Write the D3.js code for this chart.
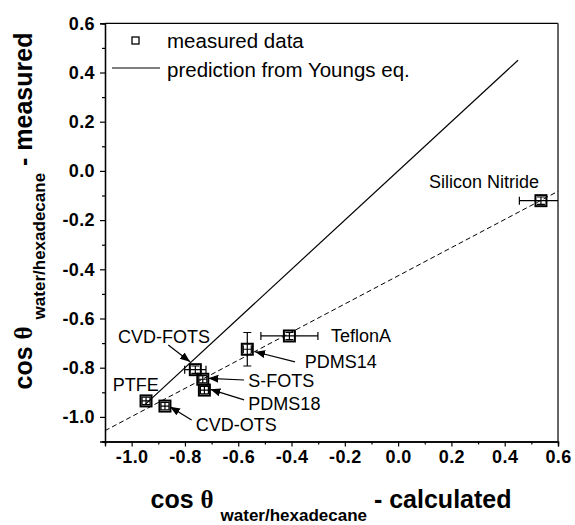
<!DOCTYPE html>
<html><head><meta charset="utf-8">
<script src="https://cdn.jsdelivr.net/npm/d3@7"></script>
<style>body{margin:0;background:#fff}svg{display:block}</style>
</head><body><svg id="c" width="575" height="525"></svg>
<script>
// ---- data ----
const names      = ["Silicon Nitride", "TeflonA", "PDMS14", "CVD-FOTS", "S-FOTS", "PDMS18", "PTFE", "CVD-OTS"];
const calculated = [0.536, -0.408, -0.566, -0.761, -0.733, -0.727, -0.946, -0.875];
const measured   = [-0.121, -0.671, -0.725, -0.808, -0.847, -0.891, -0.935, -0.956];
const xError     = [0.081, 0.107, 0.015, 0.040, 0.015, 0.015, 0.015, 0.015];
const yError     = [0.015, 0.015, 0.068, 0.015, 0.015, 0.015, 0.015, 0.015];
const youngsX = [-0.95, 0.45];
const youngsY = [-0.95, 0.45];
const fitX = [-1.1, 0.6];
const fitY = [-1.056, -0.083];
const xTicks = [-1.0, -0.8, -0.6, -0.4, -0.2, 0.0, 0.2, 0.4, 0.6];
const yTicks = [-1.0, -0.8, -0.6, -0.4, -0.2, 0.0, 0.2, 0.4, 0.6];
const legendLabels = ["measured data", "prediction from Youngs eq."];
// label anchors (data units): text position, optional arrow start/end
const labelX  = [0.116, -0.252, -0.350, -1.051, -0.562, -0.562, -1.071, -0.759];
const labelY  = [-0.045, -0.671, -0.776, -0.674, -0.854, -0.945, -0.870, -1.029];
const arrowX0 = [null, null, -0.387, -0.8625, -0.578, -0.578, null, -0.775];
const arrowY0 = [null, null, -0.776, -0.708, -0.850, -0.931, null, -1.013];
const arrowX1 = [null, null, -0.537, -0.781, -0.712, -0.7045, null, -0.856];
const arrowY1 = [null, null, -0.735, -0.776, -0.843, -0.888, null, -0.9585];

// ---- layout ----
const svg = d3.select("#c");
const L = 105, R = 558, T = 23.3, B = 441.5;
const x = d3.scaleLinear().domain([-1.1, 0.6]).range([L, R]);
const y = d3.scaleLinear().domain([-1.1, 0.6]).range([B, T]);
const SANS = "'Liberation Sans', Arial, sans-serif";
const fmt = v => d3.format(".1f")(v).replace("\u2212", "-");

svg.append("defs").append("marker")
  .attr("id", "ah").attr("viewBox", "0 0 10 10").attr("refX", 10).attr("refY", 5)
  .attr("markerWidth", 10).attr("markerHeight", 10).attr("markerUnits", "userSpaceOnUse")
  .attr("orient", "auto")
  .append("path").attr("d", "M0,1 L10,5 L0,9 Z").attr("fill", "#000");
svg.select("defs").append("clipPath").attr("id", "clip")
  .append("rect").attr("x", L).attr("y", T).attr("width", R - L).attr("height", B - T);

// axes
const xAxis = d3.axisBottom(x).tickValues(xTicks).tickSize(5).tickPadding(4).tickFormat(fmt);
const yAxis = d3.axisLeft(y).tickValues(yTicks).tickSize(5).tickPadding(5).tickFormat(fmt);
const gx = svg.append("g").attr("transform", `translate(0,${B})`).call(xAxis);
const gy = svg.append("g").attr("transform", `translate(${L},0)`).call(yAxis);
// minor ticks
const xMinor = d3.range(-1.1, 0.61, 0.1).map(v => +v.toFixed(2)).filter(v => !xTicks.some(t => Math.abs(t - v) < 1e-6));
const yMinor = xMinor.slice();
svg.append("g").attr("transform", `translate(0,${B})`).call(d3.axisBottom(x).tickValues(xMinor).tickSize(3).tickFormat(""));
svg.append("g").attr("transform", `translate(${L},0)`).call(d3.axisLeft(y).tickValues(yMinor).tickSize(3).tickFormat(""));
svg.selectAll(".domain").attr("stroke", "#000").attr("stroke-width", 1.3);
svg.selectAll(".tick line").attr("stroke", "#000").attr("stroke-width", 1.2);
[gx, gy].forEach(g => g.selectAll("text")
  .style("font-family", SANS).style("font-weight", "bold")
  .style("font-size", "18px").attr("fill", "#000").attr("letter-spacing", 0.4));
// frame top/right
svg.append("line").attr("x1", L).attr("x2", R).attr("y1", T).attr("y2", T).attr("stroke", "#000").attr("stroke-width", 1.3);
svg.append("line").attr("x1", R).attr("x2", R).attr("y1", T).attr("y2", B).attr("stroke", "#333").attr("stroke-width", 1.5);

// lines
const line = d3.line().x(d => x(d[0])).y(d => y(d[1]));
svg.append("path").attr("d", line(d3.zip(youngsX, youngsY))).attr("fill", "none").attr("stroke", "#000").attr("stroke-width", 1.2);
svg.append("path").attr("d", line(d3.zip(fitX, fitY))).attr("fill", "none").attr("stroke", "#000")
  .attr("stroke-width", 1).attr("stroke-dasharray", "5,3").attr("clip-path", "url(#clip)");

// error bars
const eb = svg.append("g").attr("clip-path", "url(#clip)").attr("stroke", "#000").attr("stroke-width", 1.2);
const cap = 4;
names.forEach((n, i) => {
  const cx = x(calculated[i]), cy = y(measured[i]);
  const x0 = x(calculated[i] - xError[i]), x1 = x(calculated[i] + xError[i]);
  const y0 = y(measured[i] - yError[i]), y1 = y(measured[i] + yError[i]);
  eb.append("line").attr("x1", x0).attr("x2", x1).attr("y1", cy).attr("y2", cy);
  eb.append("line").attr("x1", x0).attr("x2", x0).attr("y1", cy - cap).attr("y2", cy + cap);
  eb.append("line").attr("x1", x1).attr("x2", x1).attr("y1", cy - cap).attr("y2", cy + cap);
  eb.append("line").attr("x1", cx).attr("x2", cx).attr("y1", y0).attr("y2", y1);
  eb.append("line").attr("x1", cx - cap).attr("x2", cx + cap).attr("y1", y0).attr("y2", y0);
  eb.append("line").attr("x1", cx - cap).attr("x2", cx + cap).attr("y1", y1).attr("y2", y1);
});
// squares
svg.append("g").selectAll("rect").data(names).join("rect")
  .attr("x", (d, i) => x(calculated[i]) - 5.5).attr("y", (d, i) => y(measured[i]) - 5.5)
  .attr("width", 11).attr("height", 11).attr("fill", "none").attr("stroke", "#000").attr("stroke-width", 2);

// annotations
const ann = svg.append("g");
names.forEach((n, i) => {
  ann.append("text").attr("x", x(labelX[i])).attr("y", y(labelY[i])).attr("dy", "0.36em")
    .attr("font-family", SANS).attr("font-size", 18).attr("fill", "#000").text(n);
  if (arrowX0[i] !== null) {
    ann.append("line").attr("x1", x(arrowX0[i])).attr("y1", y(arrowY0[i]))
      .attr("x2", x(arrowX1[i])).attr("y2", y(arrowY1[i]))
      .attr("stroke", "#000").attr("stroke-width", 1.2).attr("marker-end", "url(#ah)");
  }
});

// legend
const lg = svg.append("g").attr("font-family", SANS).attr("font-size", 20.5);
lg.append("rect").attr("x", 132).attr("y", 37).attr("width", 7).attr("height", 7).attr("fill", "none").attr("stroke", "#000").attr("stroke-width", 1.3);
lg.append("line").attr("x1", 112).attr("x2", 160).attr("y1", 68).attr("y2", 68).attr("stroke", "#000").attr("stroke-width", 1);
lg.append("text").attr("x", 167).attr("y", 41).attr("dy", "0.36em").text(legendLabels[0]);
lg.append("text").attr("x", 167).attr("y", 70).attr("dy", "0.36em").text(legendLabels[1]);

// axis titles
function title(g, tail) {
  const t = g.append("text").attr("text-anchor", "middle").attr("font-family", SANS)
    .attr("font-weight", "bold").attr("font-size", 25).attr("fill", "#000");
  t.append("tspan").text("cos ");
  t.append("tspan").attr("font-family", "'Liberation Serif', serif").text("\u03B8");
  t.append("tspan").text(" ");
  t.append("tspan").attr("font-size", 17).attr("dy", 13).text("water/hexadecane");
  t.append("tspan").attr("dy", -13).text(" - " + tail);
}
title(svg.append("g").attr("transform", "translate(331,508)"), "calculated");
title(svg.append("g").attr("transform", "translate(32,211) rotate(-90)"), "measured");
</script></body></html>
